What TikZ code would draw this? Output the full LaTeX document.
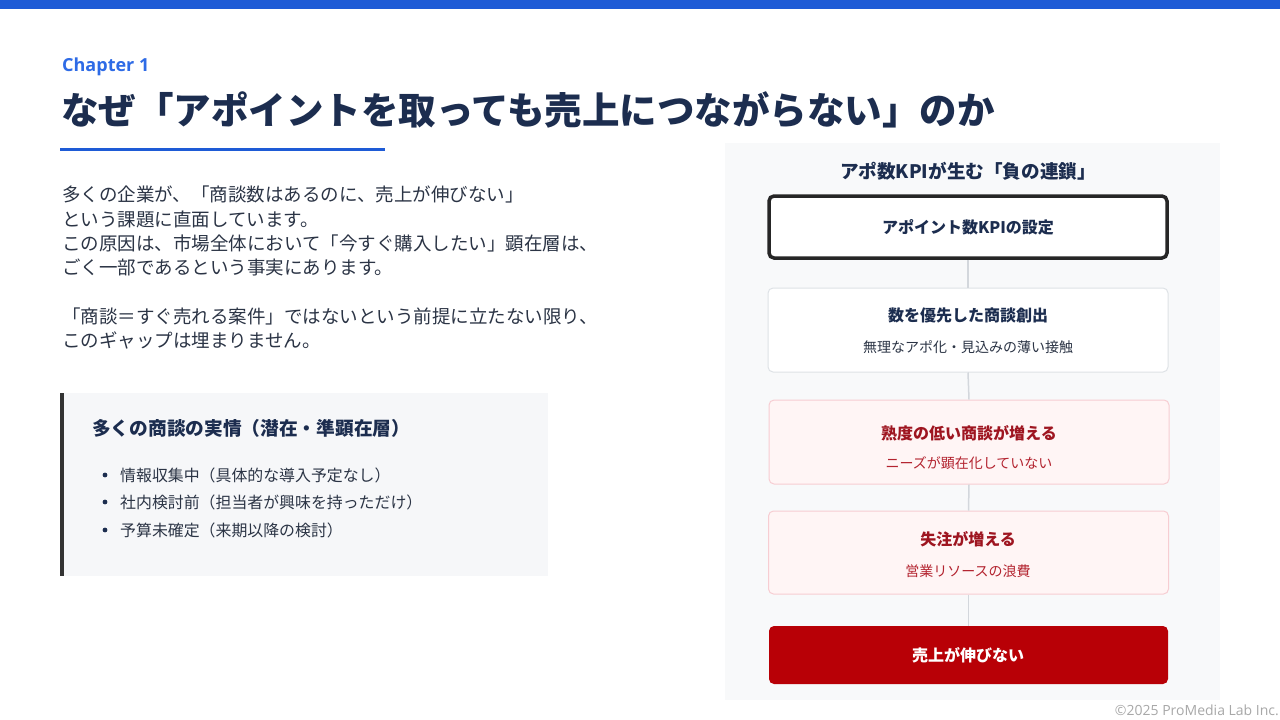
\documentclass[tikz,border=0pt]{standalone}
\usepackage{fontspec}
\setmainfont{Noto Sans CJK JP}
\newfontfamily\latinfont{Open Sans}
\usetikzlibrary{calc}
\definecolor{topblue}{HTML}{1E5BD6}
\definecolor{chapblue}{HTML}{2E6BE6}
\definecolor{navy}{HTML}{1C2D4F}
\definecolor{bodygray}{HTML}{2B3445}
\definecolor{panelbg}{HTML}{F8F9FA}
\definecolor{notebg}{HTML}{F6F7F9}
\definecolor{linegray}{HTML}{D3D7DC}
\definecolor{boxline}{HTML}{DEE2E6}
\definecolor{pinkbg}{HTML}{FFF5F5}
\definecolor{pinkline}{HTML}{F7CDD2}
\definecolor{winered}{HTML}{9E1520}
\definecolor{subred}{HTML}{B3232F}
\definecolor{redbox}{HTML}{B80006}
\definecolor{footgray}{HTML}{A8A8A8}
\newcommand*{\fs}[2]{\fontsize{#1}{#2}\selectfont}
\newcommand*{\bxw}{400}

\begin{document}
\begin{tikzpicture}[x=1pt, y=-1pt, inner sep=0pt,
    txt/.style   = {anchor=west, text=bodygray},
    chain/.style = {rectangle, rounded corners=5pt, minimum width=\bxw pt},
    ttl/.style   = {font=\bfseries\fs{16}{18}},
    sub/.style   = {font=\fs{14}{16}},
    link/.style  = {draw=linegray, line width=1.5pt, xshift=2.5pt}]
    \useasboundingbox (0,0) rectangle (1280,720);
    \fill [white] (0,0) rectangle (1280,720);
    \fill [topblue] (0,0) rectangle (1280,9);

    % heading
    \node [anchor=west, text=chapblue, font=\latinfont\bfseries\fs{18}{20}] (chap) at (62,67) {Chapter 1};
    \node [anchor=west, text=navy, font=\bfseries\fs{37.5}{40}] (title) at (61,110) {なぜ「アポイントを取っても売上につながらない」のか};
    \draw [topblue, line width=3pt] (60,149) -- (385,149);

    % body
    \node [anchor=north west, align=left, text=bodygray, font=\fs{18.5}{24.3}] (body) at (62,186)
        {多くの企業が、「商談数はあるのに、売上が伸びない」\\
         という課題に直面しています。\\
         この原因は、市場全体において「今すぐ購入したい」顕在層は、\\
         ごく一部であるという事実にあります。\\[24.3pt]
         「商談＝すぐ売れる案件」ではないという前提に立たない限り、\\
         このギャップは埋まりません。};

    % note box
    \fill [notebg] (60,393) rectangle (548,576);
    \fill [black!80] (60,393) rectangle (64,576);
    \node [anchor=west, text=navy, font=\bfseries\fs{18.7}{20}] (note) at (92,428) {多くの商談の実情（潜在・準顕在層）};
    \foreach \y/\t [count=\i] in {475/情報収集中（具体的な導入予定なし）,
                                  502/社内検討前（担当者が興味を持っただけ）,
                                  530/予算未確定（来期以降の検討）} {
        \fill [navy] (105,\y) circle (2.4);
        \node [txt, font=\fs{15.9}{18}] (item\i) at (120,\y) {\t};
    }

    % chain panel
    \fill [panelbg] (725,143) rectangle (1220,700);
    \node [text=navy, font=\bfseries\fs{18.6}{20}] (head) at (968,171) {アポ数KPIが生む「負の連鎖」};

    \node [chain, fill=white, draw=black!85, line width=3.5pt, minimum width=398pt, minimum height=62pt] (b1) at (968,227) {};
    \node [chain, fill=white, draw=boxline, line width=1pt, minimum height=84pt] (b2) at (968,330) {};
    \node [chain, fill=pinkbg, draw=pinkline, line width=1pt, minimum height=84pt] (b3) at (969,442) {};
    \node [chain, fill=pinkbg, draw=pinkline, line width=1pt, minimum height=83pt] (b4) at (968.5,552.5) {};
    \node [chain, fill=redbox, minimum width=399pt, minimum height=58pt] (b5) at (968.5,655) {};

    \draw [link] (b1.south) -- (b2.north);
    \draw [link] (b2.south) -- (b3.north);
    \draw [link] (b3.south) -- (b4.north);
    \draw [link] (b4.south) -- (b5.north);

    \node [ttl, text=navy] (t1) at (968,227) {アポイント数KPIの設定};
    \node [ttl, text=navy] (t2) at (968,315) {数を優先した商談創出};
    \node [sub, text=bodygray] (s2) at (968,347) {無理なアポ化・見込みの薄い接触};
    \node [ttl, text=winered] (t3) at (969,433) {熟度の低い商談が増える};
    \node [sub, text=subred] (s3) at (969,463) {ニーズが顕在化していない};
    \node [ttl, text=winered] (t4) at (968,539) {失注が増える};
    \node [sub, text=subred] (s4) at (968,571) {営業リソースの浪費};
    \node [ttl, text=white] (t5) at (968,655) {売上が伸びない};

    \node [anchor=east, text=footgray, font=\latinfont\fs{14}{16}] (foot) at (1279,710) {©2025 ProMedia Lab Inc.};
\end{tikzpicture}
\end{document}
